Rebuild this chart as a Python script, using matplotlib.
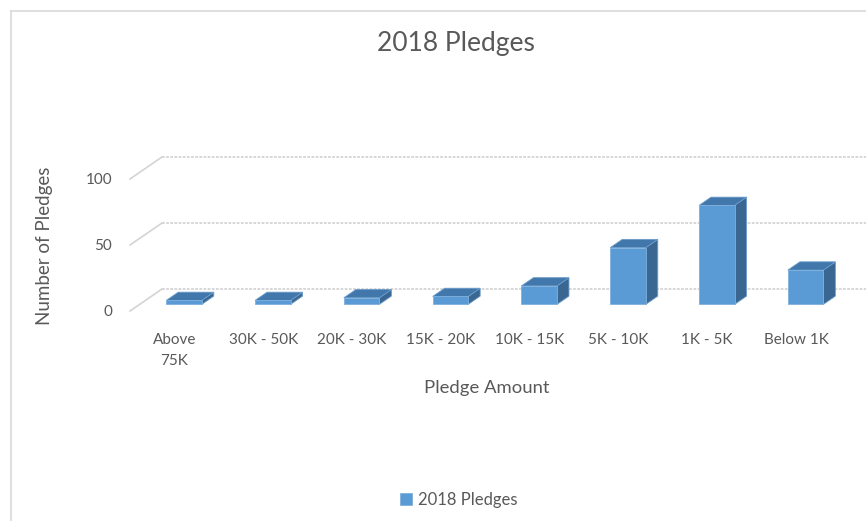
import matplotlib.pyplot as plt
from matplotlib.patches import Polygon
from matplotlib.lines import Line2D

# Chart data.
categories = ["Above\n75K", "30K - 50K", "20K - 30K", "15K - 20K",
              "10K - 15K", "5K - 10K", "1K - 5K", "Below 1K"]
pledge_counts = [3, 3, 5, 6, 14, 43, 75, 26]
y_ticks = [0, 50, 100]
series_name = "2018 Pledges"

# Colours.
text_grey = "#595959"
grid_grey = "#D4D4D4"
front_blue = "#5B9BD5"
top_blue = "#4177AA"
side_blue = "#3A6792"

W, H = 866, 521
plt.rcParams["font.family"] = ["Lato", "DejaVu Sans"]

fig = plt.figure(figsize=(W / 100, H / 100), dpi=100)

# Axes placed so that the front plane starts at x=130px and 0 sits at y=311px.
px_per_cat = 88.8
px_per_val = 1.32
left_px, top_px, zero_px = 130, 140, 311
ax = fig.add_axes([left_px / W, (H - zero_px) / H, 1 - left_px / W, (zero_px - top_px) / H])
ax.set_xlim(-0.5, -0.5 + (W - left_px) / px_per_cat)
ax.set_ylim(0, (zero_px - top_px) / px_per_val)

# Oblique depth offsets (full depth) in data units.
DX = 32 / px_per_cat
DY = 22 / px_per_val
f0, f1 = 0.3, 0.675
half_w = 0.2

# Back wall gridlines and the left side wall lines.
for t in y_ticks:
    ax.plot([-0.5 + DX, ax.get_xlim()[1] + 0.1], [t + DY, t + DY], color=grid_grey,
            lw=1.3, ls=(0, (1.5, 0.8)), zorder=1, clip_on=False)
    ax.plot([-0.5, -0.5 + DX], [t, t + DY], color=grid_grey, lw=1.2,
            zorder=1, clip_on=False)

# 3D style columns.
for i, v in enumerate(pledge_counts):
    xl = i - half_w
    xr = i + half_w
    front = [(xl + f0 * DX, f0 * DY), (xr + f0 * DX, f0 * DY),
             (xr + f0 * DX, v + f0 * DY), (xl + f0 * DX, v + f0 * DY)]
    top = [(xl + f0 * DX, v + f0 * DY), (xr + f0 * DX, v + f0 * DY),
           (xr + f1 * DX, v + f1 * DY), (xl + f1 * DX, v + f1 * DY)]
    side = [(xr + f0 * DX, f0 * DY), (xr + f1 * DX, f1 * DY),
            (xr + f1 * DX, v + f1 * DY), (xr + f0 * DX, v + f0 * DY)]
    ax.add_patch(Polygon(side, closed=True, fc=side_blue, ec="#6A9CCB", lw=0.6, zorder=3))
    ax.add_patch(Polygon(top, closed=True, fc=top_blue, ec="#6A9CCB", lw=0.6, zorder=3))
    ax.add_patch(Polygon(front, closed=True, fc=front_blue, ec="#7FB0DD", lw=0.6, zorder=4,
                         label=series_name if i == 0 else None))

# Axes text.
ax.set_yticks(y_ticks)
ax.set_yticklabels([str(t) for t in y_ticks], color=text_grey, fontsize=11)
ax.set_xticks(range(len(categories)))
ax.set_xticklabels(categories, color=text_grey, fontsize=11, linespacing=1.6, va="top")
ax.tick_params(axis="y", length=0, pad=13)
ax.tick_params(axis="x", length=0, pad=16)
for s in ax.spines.values():
    s.set_visible(False)
ax.patch.set_alpha(0)

fig.text(487 / W, 1 - 388 / H, "Pledge Amount", color=text_grey, fontsize=13.3,
         ha="center", va="center")
fig.text(45 / W, 1 - 246 / H, "Number of Pledges", color=text_grey, fontsize=13.5,
         ha="center", va="center", rotation=90)
fig.text(456 / W, 1 - 44 / H, "2018 Pledges", color=text_grey, fontsize=19,
         ha="center", va="center")

fig.legend(loc="center", bbox_to_anchor=(459 / W, 1 - 500 / H), frameon=False,
           fontsize=12, handlelength=0.7, handleheight=0.7, handletextpad=0.4,
           labelcolor=text_grey)

# Chart border (top and left edges visible).
fig.add_artist(Line2D([11 / W, 1], [1 - 11 / H, 1 - 11 / H], color="#D9D9D9", lw=1.2))
fig.add_artist(Line2D([11 / W, 11 / W], [0, 1 - 11 / H], color="#D9D9D9", lw=1.2))

fig.savefig("out.png", dpi=100)
